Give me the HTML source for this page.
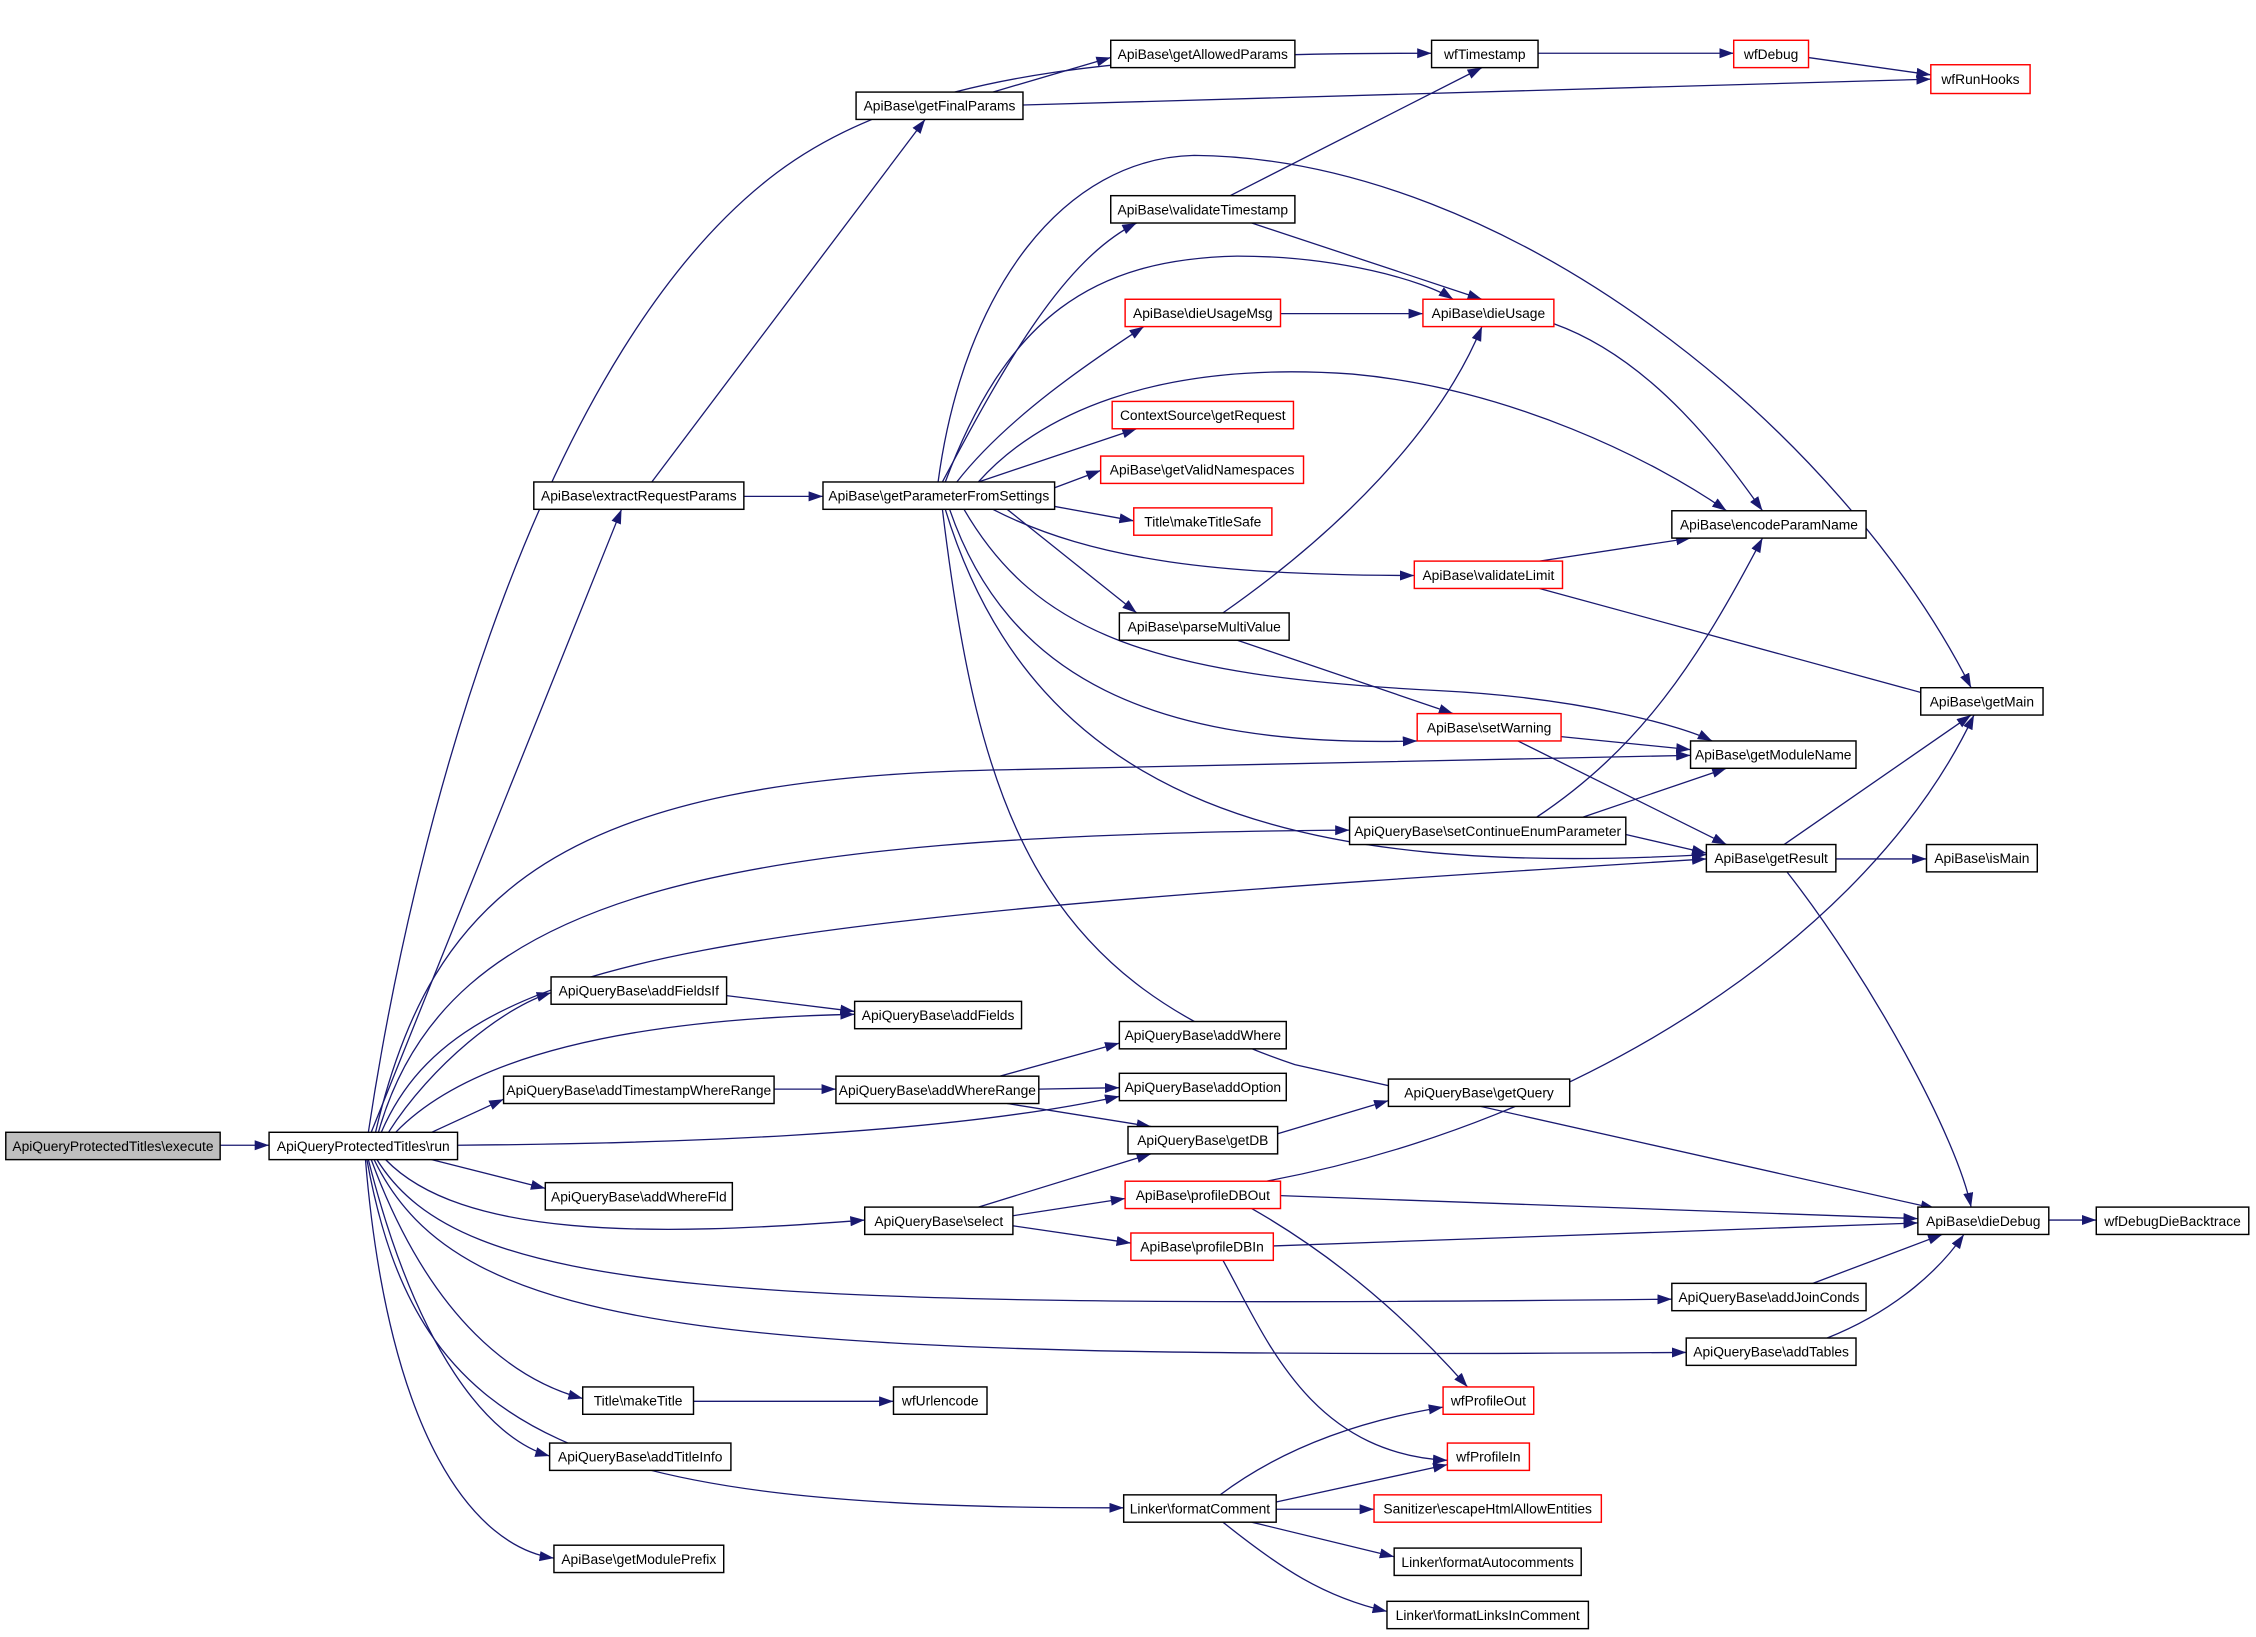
<!DOCTYPE html>
<html><head><meta charset="utf-8"><style>
html,body{margin:0;padding:0;background:#fff;}
svg{display:block;}
text{font-family:"Liberation Sans",Arial,sans-serif;font-size:9.6px;fill:#000;text-anchor:middle;dominant-baseline:central;}
.n{fill:#fff;stroke:#000;stroke-width:1;}
.r{fill:#fff;stroke:#ff0000;stroke-width:1;}
.g{fill:#bfbfbf;stroke:#000;stroke-width:1;}
.e{fill:none;stroke:#191970;stroke-width:0.9;marker-end:url(#a);}
</style></head><body>
<svg width="2256" height="1637" viewBox="0 0 1568 1137.8" xmlns="http://www.w3.org/2000/svg">
<defs><marker id="a" markerUnits="userSpaceOnUse" markerWidth="10" markerHeight="8" refX="10" refY="3.5" orient="auto"><path d="M0,0 L10,3.5 L0,7 z" fill="#191970"/></marker></defs>
<g>
<path class="e" d="M153,796 L187,796"/>
<path class="e" d="M256,787 C290,560 380,240 540,120 C640,45 800,37 995,37"/>
<path class="e" d="M258,787 L432,354"/>
<path class="e" d="M261,787 C300,620 390,540 700,535 L1175,525"/>
<path class="e" d="M263,787 C310,620 500,580 938,577"/>
<path class="e" d="M265,787 C320,660 500,640 1186,597"/>
<path class="e" d="M270,787 C300,740 350,700 383,690"/>
<path class="e" d="M275,787 C330,730 450,708 594,705"/>
<path class="e" d="M300,787 L350,764"/>
<path class="e" d="M318,796 C450,795 650,790 778,762"/>
<path class="e" d="M300,806 L379,826"/>
<path class="e" d="M268,806 C320,860 450,860 601,848"/>
<path class="e" d="M262,806 C320,900 500,910 1162,903"/>
<path class="e" d="M260,806 C320,930 500,945 1172,940"/>
<path class="e" d="M258,806 C300,920 360,960 405,972"/>
<path class="e" d="M256,806 C290,940 340,1000 382,1012"/>
<path class="e" d="M255,806 C290,1000 400,1049 781,1048"/>
<path class="e" d="M254,806 C270,1000 330,1075 385,1083"/>
<path class="e" d="M453,335 L643,83"/>
<path class="e" d="M517,345 L572,345"/>
<path class="e" d="M690,64 L772,40"/>
<path class="e" d="M711,73 L1342,55"/>
<path class="e" d="M1069,37 L1205,37"/>
<path class="e" d="M1257,40 L1342,52"/>
<path class="e" d="M855,136 L1030,47"/>
<path class="e" d="M870,155 L1030,208"/>
<path class="e" d="M890,218 L989,218"/>
<path class="e" d="M1080,225 C1150,250 1200,320 1225,355"/>
<path class="e" d="M652,335 C670,200 740,110 830,108 C1050,110 1280,300 1370,478"/>
<path class="e" d="M655,335 C700,250 740,180 790,155"/>
<path class="e" d="M657,335 C700,220 760,180 860,178 C930,178 990,195 1010,208"/>
<path class="e" d="M665,335 C700,290 760,250 795,227"/>
<path class="e" d="M680,335 C720,290 800,250 940,260 C1050,270 1150,320 1200,355"/>
<path class="e" d="M680,335 L790,298"/>
<path class="e" d="M733,339 L765,327"/>
<path class="e" d="M733,352 L788,362"/>
<path class="e" d="M690,354 C760,390 850,400 983,400"/>
<path class="e" d="M700,354 L790,426"/>
<path class="e" d="M670,354 C720,440 800,470 1000,480 C1100,485 1170,505 1190,515"/>
<path class="e" d="M660,354 C700,470 800,520 985,515"/>
<path class="e" d="M657,354 C720,560 900,610 1186,594"/>
<path class="e" d="M655,354 C680,560 720,680 900,740 L1345,840"/>
<path class="e" d="M850,426 C930,370 1000,300 1030,227"/>
<path class="e" d="M860,445 L1010,496"/>
<path class="e" d="M1070,390 L1175,374"/>
<path class="e" d="M1070,409 L1345,484"/>
<path class="e" d="M1085,512 L1175,521"/>
<path class="e" d="M1055,515 L1200,587"/>
<path class="e" d="M1068,568 C1140,520 1180,460 1225,374"/>
<path class="e" d="M1100,568 L1200,534"/>
<path class="e" d="M1130,580 L1186,593"/>
<path class="e" d="M1240,587 L1370,497"/>
<path class="e" d="M1276,597 L1339,597"/>
<path class="e" d="M1242,606 C1300,680 1360,790 1370,839"/>
<path class="e" d="M505,692 L594,703"/>
<path class="e" d="M538,757 L581,757"/>
<path class="e" d="M695,748 L778,725"/>
<path class="e" d="M722,757 L778,756"/>
<path class="e" d="M700,767 L800,783"/>
<path class="e" d="M888,788 L965,765"/>
<path class="e" d="M680,839 L800,802"/>
<path class="e" d="M704,845 L782,833"/>
<path class="e" d="M704,852 L786,864"/>
<path class="e" d="M880,821 C1100,780 1300,650 1372,497"/>
<path class="e" d="M890,831 L1333,847"/>
<path class="e" d="M870,840 C940,880 990,930 1020,964"/>
<path class="e" d="M885,866 L1333,850"/>
<path class="e" d="M850,876 C880,930 910,1010 1006,1015"/>
<path class="e" d="M1424,848 L1457,848"/>
<path class="e" d="M1260,892 L1350,858"/>
<path class="e" d="M1270,930 C1320,910 1350,880 1365,858"/>
<path class="e" d="M482,974 L621,974"/>
<path class="e" d="M848,1039 C900,1000 960,985 1003,978"/>
<path class="e" d="M887,1044 L1006,1018"/>
<path class="e" d="M887,1049 L955,1049"/>
<path class="e" d="M870,1058 L969,1082"/>
<path class="e" d="M850,1058 C890,1090 920,1110 964,1120"/>
</g>
<g>
<rect class="g" x="4" y="787" width="149" height="19"/><text x="78.5" y="796.5">ApiQueryProtectedTitles\execute</text>
<rect class="n" x="187" y="787" width="131" height="19"/><text x="252.5" y="796.5">ApiQueryProtectedTitles\run</text>
<rect class="n" x="995" y="28" width="74" height="19"/><text x="1032" y="37.5">wfTimestamp</text>
<rect class="r" x="1205" y="28" width="52" height="19"/><text x="1231" y="37.5">wfDebug</text>
<rect class="r" x="1342" y="45" width="69" height="20"/><text x="1376.5" y="55">wfRunHooks</text>
<rect class="n" x="772" y="28" width="128" height="19"/><text x="836" y="37.5">ApiBase\getAllowedParams</text>
<rect class="n" x="595" y="64" width="116" height="19"/><text x="653" y="73.5">ApiBase\getFinalParams</text>
<rect class="n" x="772" y="136" width="128" height="19"/><text x="836" y="145.5">ApiBase\validateTimestamp</text>
<rect class="r" x="782" y="208" width="108" height="19"/><text x="836" y="217.5">ApiBase\dieUsageMsg</text>
<rect class="r" x="989" y="208" width="91" height="19"/><text x="1034.5" y="217.5">ApiBase\dieUsage</text>
<rect class="r" x="773" y="279" width="126" height="19"/><text x="836" y="288.5">ContextSource\getRequest</text>
<rect class="r" x="765" y="317" width="141" height="19"/><text x="835.5" y="326.5">ApiBase\getValidNamespaces</text>
<rect class="r" x="788" y="353" width="96" height="19"/><text x="836" y="362.5">Title\makeTitleSafe</text>
<rect class="n" x="371" y="335" width="146" height="19"/><text x="444" y="344.5">ApiBase\extractRequestParams</text>
<rect class="n" x="572" y="335" width="161" height="19"/><text x="652.5" y="344.5">ApiBase\getParameterFromSettings</text>
<rect class="n" x="1162" y="355" width="135" height="19"/><text x="1229.5" y="364.5">ApiBase\encodeParamName</text>
<rect class="r" x="983" y="390" width="103" height="19"/><text x="1034.5" y="399.5">ApiBase\validateLimit</text>
<rect class="n" x="778" y="426" width="118" height="19"/><text x="837" y="435.5">ApiBase\parseMultiValue</text>
<rect class="n" x="1335" y="478" width="85" height="19"/><text x="1377.5" y="487.5">ApiBase\getMain</text>
<rect class="r" x="985" y="496" width="100" height="19"/><text x="1035" y="505.5">ApiBase\setWarning</text>
<rect class="n" x="1175" y="515" width="115" height="19"/><text x="1232.5" y="524.5">ApiBase\getModuleName</text>
<rect class="n" x="938" y="568" width="192" height="19"/><text x="1034" y="577.5">ApiQueryBase\setContinueEnumParameter</text>
<rect class="n" x="1186" y="587" width="90" height="19"/><text x="1231" y="596.5">ApiBase\getResult</text>
<rect class="n" x="1339" y="587" width="77" height="19"/><text x="1377.5" y="596.5">ApiBase\isMain</text>
<rect class="n" x="383" y="679" width="122" height="19"/><text x="444" y="688.5">ApiQueryBase\addFieldsIf</text>
<rect class="n" x="594" y="696" width="116" height="19"/><text x="652" y="705.5">ApiQueryBase\addFields</text>
<rect class="n" x="778" y="710" width="116" height="19"/><text x="836" y="719.5">ApiQueryBase\addWhere</text>
<rect class="n" x="350" y="748" width="188" height="19"/><text x="444" y="757.5">ApiQueryBase\addTimestampWhereRange</text>
<rect class="n" x="581" y="748" width="141" height="19"/><text x="651.5" y="757.5">ApiQueryBase\addWhereRange</text>
<rect class="n" x="778" y="746" width="116" height="19"/><text x="836" y="755.5">ApiQueryBase\addOption</text>
<rect class="n" x="965" y="750" width="126" height="19"/><text x="1028" y="759.5">ApiQueryBase\getQuery</text>
<rect class="n" x="784" y="783" width="104" height="19"/><text x="836" y="792.5">ApiQueryBase\getDB</text>
<rect class="n" x="379" y="822" width="130" height="19"/><text x="444" y="831.5">ApiQueryBase\addWhereFld</text>
<rect class="r" x="782" y="821" width="108" height="19"/><text x="836" y="830.5">ApiBase\profileDBOut</text>
<rect class="n" x="601" y="839" width="103" height="19"/><text x="652.5" y="848.5">ApiQueryBase\select</text>
<rect class="r" x="786" y="857" width="99" height="19"/><text x="835.5" y="866.5">ApiBase\profileDBIn</text>
<rect class="n" x="1333" y="839" width="91" height="19"/><text x="1378.5" y="848.5">ApiBase\dieDebug</text>
<rect class="n" x="1457" y="839" width="106" height="19"/><text x="1510" y="848.5">wfDebugDieBacktrace</text>
<rect class="n" x="1162" y="892" width="135" height="19"/><text x="1229.5" y="901.5">ApiQueryBase\addJoinConds</text>
<rect class="n" x="1172" y="930" width="118" height="19"/><text x="1231" y="939.5">ApiQueryBase\addTables</text>
<rect class="n" x="405" y="964" width="77" height="19"/><text x="443.5" y="973.5">Title\makeTitle</text>
<rect class="n" x="621" y="964" width="65" height="19"/><text x="653.5" y="973.5">wfUrlencode</text>
<rect class="r" x="1003" y="964" width="63" height="19"/><text x="1034.5" y="973.5">wfProfileOut</text>
<rect class="n" x="382" y="1003" width="126" height="19"/><text x="445" y="1012.5">ApiQueryBase\addTitleInfo</text>
<rect class="r" x="1006" y="1003" width="57" height="19"/><text x="1034.5" y="1012.5">wfProfileIn</text>
<rect class="n" x="781" y="1039" width="106" height="19"/><text x="834" y="1048.5">Linker\formatComment</text>
<rect class="r" x="955" y="1039" width="158" height="19"/><text x="1034" y="1048.5">Sanitizer\escapeHtmlAllowEntities</text>
<rect class="n" x="385" y="1074" width="118" height="19"/><text x="444" y="1083.5">ApiBase\getModulePrefix</text>
<rect class="n" x="969" y="1076" width="130" height="19"/><text x="1034" y="1085.5">Linker\formatAutocomments</text>
<rect class="n" x="964" y="1113" width="140" height="19"/><text x="1034" y="1122.5">Linker\formatLinksInComment</text>
</g>
</svg>
</body></html>
